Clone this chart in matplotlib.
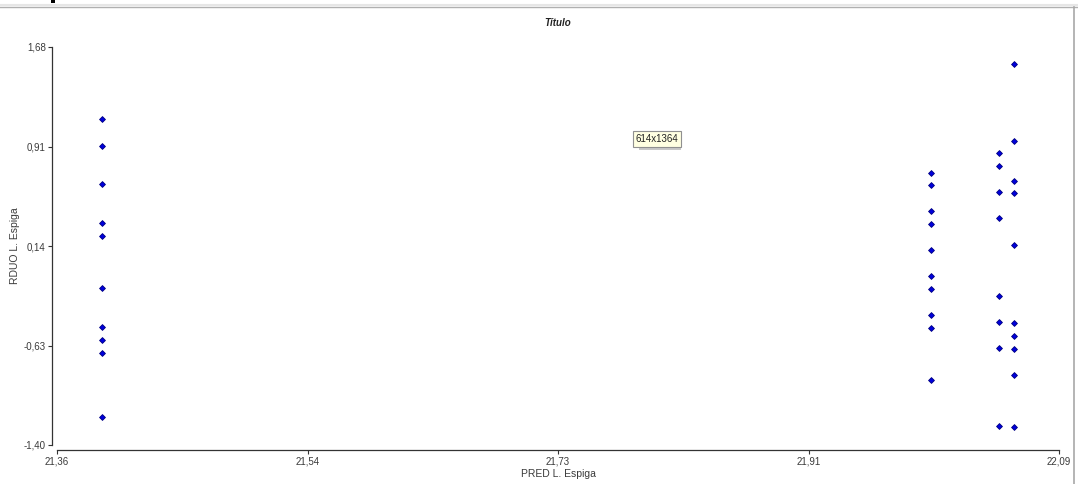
import matplotlib
matplotlib.use("Agg")
import matplotlib.pyplot as plt
from matplotlib.lines import Line2D
from matplotlib.patches import Rectangle
import numpy as np

# Valores (predicho vs residuo)
pred_a = [21.393] * 10
rduo_a = [1.123, 0.914, 0.620, 0.318, 0.217, -0.185, -0.487, -0.588, -0.688, -1.183]

pred_b = [21.997] * 10
rduo_b = [0.705, 0.612, 0.411, 0.310, 0.109, -0.092, -0.193, -0.394, -0.495, -0.897]

pred_c = [22.046] * 8
rduo_c = [0.860, 0.759, 0.558, 0.357, -0.247, -0.448, -0.649, -1.253]

pred_d = [22.057] * 10
rduo_d = [1.548, 0.953, 0.643, 0.550, 0.148, -0.456, -0.557, -0.657, -0.858, -1.261]

x_min, x_max = 21.36, 22.09
y_min, y_max = -1.40, 1.68

texto = "#3a3a3a"
plt.rcParams["font.family"] = ["Liberation Sans", "DejaVu Sans"]

W, H = 1078, 484
fig = plt.figure(figsize=(W / 100, H / 100), dpi=100)
ax = fig.add_axes([57 / W, (H - 445) / H, (1059 - 57) / W, (445 - 47) / H])

x = pred_a + pred_b + pred_c + pred_d
y = rduo_a + rduo_b + rduo_c + rduo_d
ax.plot(x, y, linestyle="none", marker="D", markersize=3.0,
        markerfacecolor="#0000dd", markeredgecolor="#000080", markeredgewidth=0.6)

ax.set_xlim(x_min, x_max)
ax.set_ylim(y_min, y_max)
xt = np.linspace(x_min, x_max, 5)
yt = np.linspace(y_min, y_max, 5)
ax.set_xticks(xt)
ax.set_yticks(yt)
ax.set_xticklabels([f"{v:.2f}".replace(".", ",") for v in xt])
ax.set_yticklabels([f"{v:.2f}".replace(".", ",") for v in yt])
ax.tick_params(axis="both", labelsize=7, colors="#333333", labelcolor=texto,
               length=3, width=0.8, pad=1.5)

for lado in ["top", "right"]:
    ax.spines[lado].set_visible(False)
for lado in ["left", "bottom"]:
    ax.spines[lado].set_color("#333333")
    ax.spines[lado].set_linewidth(0.9)
ax.spines["left"].set_position(("outward", 3.6))
ax.spines["bottom"].set_position(("outward", 3.6))

ax.set_title("Título", fontsize=7, fontweight="bold", style="italic",
             color="#222222", pad=15)
ax.set_xlabel("PRED L. Espiga", fontsize=7.5, color=texto, labelpad=2)
ax.set_ylabel("RDUO L. Espiga", fontsize=7.5, color=texto)
ax.yaxis.set_label_coords((20 - 57) / 1002, 0.5)

# marco de la ventana
fig.add_artist(Line2D([0, 1], [1 - 4.5 / H, 1 - 4.5 / H], color="#e6e6e6", lw=1.5))
fig.add_artist(Line2D([0, 1], [1 - 6.5 / H, 1 - 6.5 / H], color="#b0b0b0", lw=1))
fig.add_artist(Line2D([1074 / W, 1074 / W], [0, 1 - 6.5 / H], color="#a8a8a8", lw=1.2))
fig.add_artist(Rectangle((51 / W, 1 - 3 / H), 4 / W, 3 / H, color="black", lw=0))

# etiqueta emergente con sombra
fig.add_artist(Rectangle((639 / W, 1 - 150 / H), 42 / W, 17 / H,
                         facecolor="#c8c8c8", edgecolor="none"))
fig.text(657 / W, 1 - 139 / H, "614x1364", fontsize=7, color="#222222",
         ha="center", va="center",
         bbox=dict(boxstyle="square,pad=0.3", facecolor="#ffffe1",
                   edgecolor="#909090", linewidth=0.8))

fig.savefig("out.png", dpi=100)
